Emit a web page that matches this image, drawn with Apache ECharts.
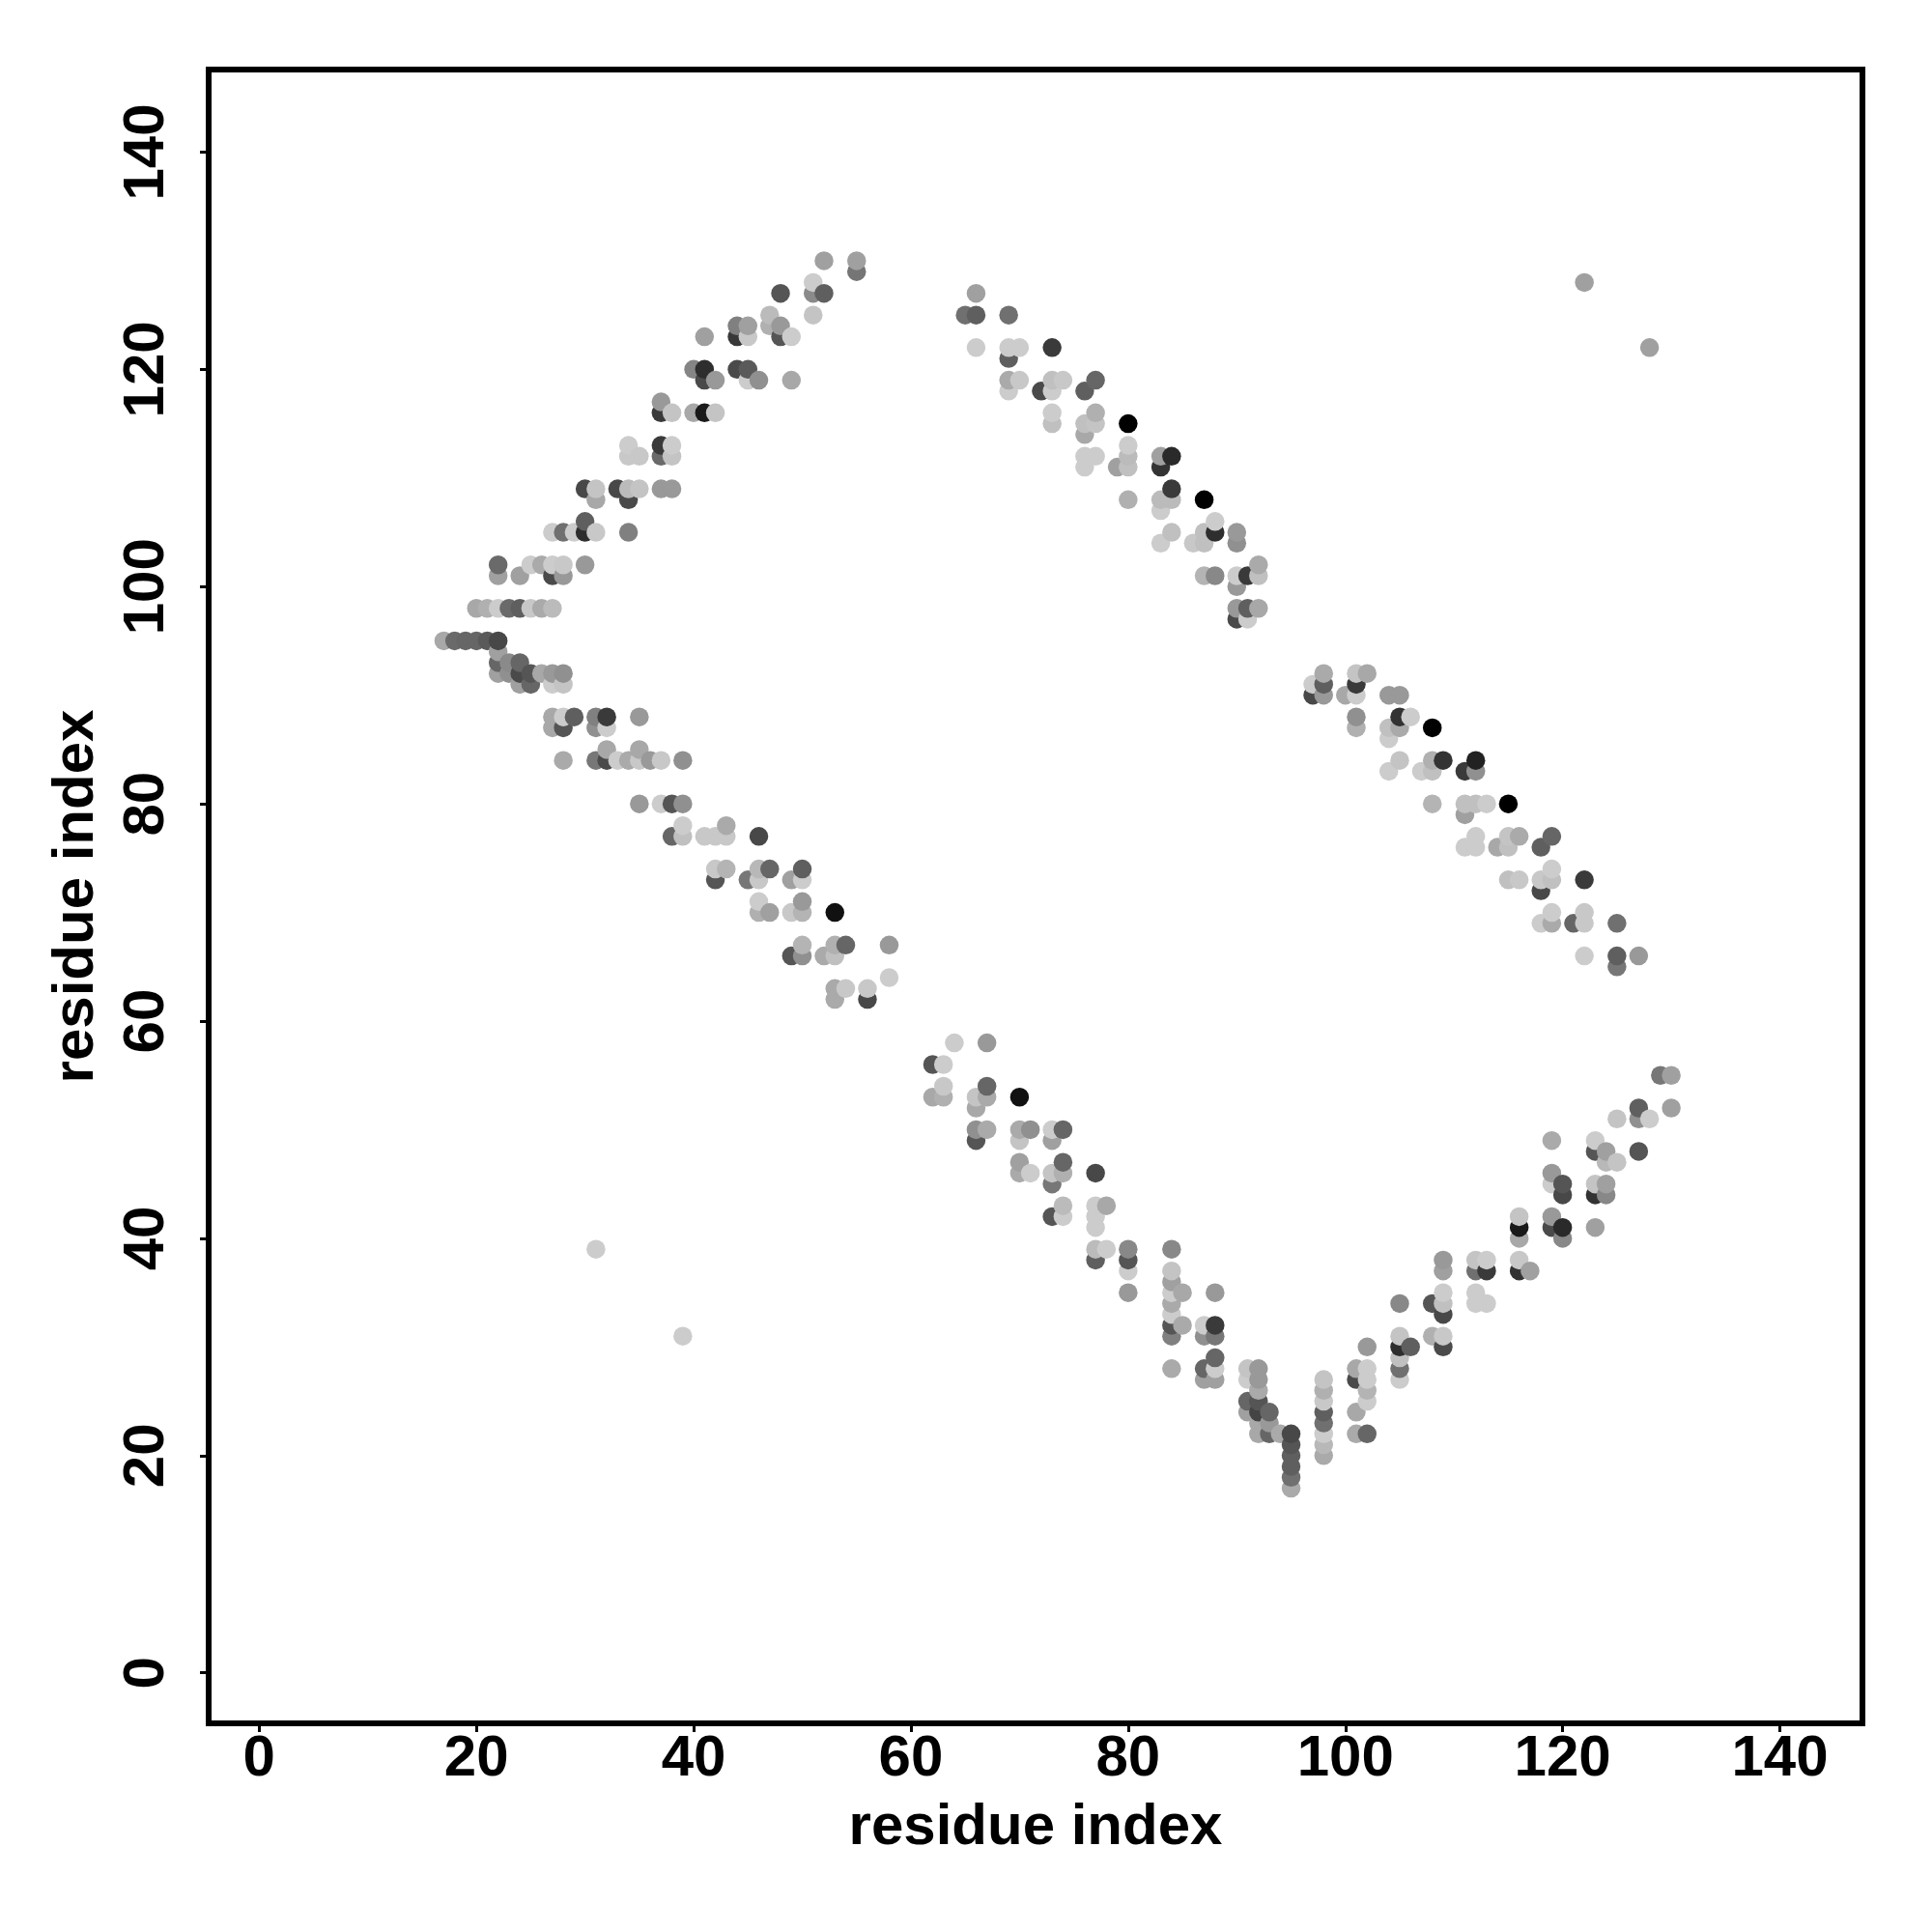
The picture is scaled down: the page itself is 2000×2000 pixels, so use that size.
<!DOCTYPE html>
<html>
<head>
<meta charset="utf-8">
<style>html,body{margin:0;padding:0;background:#fff}#c{width:2000px;height:2000px}</style>
<script src="https://cdn.jsdelivr.net/npm/echarts@6/dist/echarts.min.js"></script>
</head>
<body>
<div id="c"></div>
<script>
// Each contact: [residue i, residue j, grey level of the dot]
const upperLeftArm = [
[52,130,160],[55,130,160],[55,129,117],[48,127,85],[51,128,204],[51,127,138],[52,127,95],[51,125,196],
[47,125,187],[47,124,176],[48,124,153],[48,123,85],[49,123,204],[44,124,128],[45,124,160],[44,123,56],[45,123,200],[41,123,160],
[40,120,133],[41,120,46],[41,119,74],[42,119,153],[44,120,74],[45,120,90],[45,119,204],[46,119,144],[49,119,168],
[37,117,153],[37,116,58],[38,116,196],[40,116,168],[41,116,26],[42,116,196],
[34,113,204],[34,112,200],[35,112,200],[37,113,58],[38,113,204],[37,112,106],[38,112,196],
[30,109,72],[31,109,196],[31,108,168],[33,109,72],[34,109,187],[35,109,196],[34,108,74],[37,109,153],[38,109,153],
[30,106,95],[27,105,204],[28,105,112],[29,105,204],[30,105,46],[31,105,200],[34,105,128],
[22,102,106],[22,101,160],[24,101,160],[25,102,204],[26,102,170],[27,102,204],[28,102,200],[27,101,74],[28,101,153],[30,102,153],
[20,98,168],[21,98,176],[22,98,204],[23,98,106],[24,98,95],[25,98,200],[26,98,170],[27,98,187]
];
const lowerLeftArm = [
[17,95,168],[18,95,106],[19,95,102],[20,95,102],[21,95,90],[22,95,72],
[22,94,160],[22,93,102],[22,92,160],[23,93,138],[23,92,144],[24,93,102],[24,92,74],[24,91,160],[25,92,85],[25,91,102],
[26,92,168],[27,92,153],[28,92,144],[27,91,204],[28,91,196],
[27,88,168],[28,88,204],[29,88,95],[31,88,128],[32,88,58],[35,88,153],[27,87,168],[28,87,85],[31,87,144],[32,87,204],
[32,85,168],[35,85,168],[28,84,170],[31,84,119],[32,84,74],[33,84,204],[34,84,170],[35,84,200],[36,84,153],[37,84,200],[39,84,144],
[35,80,153],[37,80,204],[38,80,85],[39,80,144],[39,78,204],[43,78,170],[38,77,102],[39,77,192],[41,77,200],[42,77,200],[43,77,200],[46,77,72],
[42,74,200],[43,74,180],[46,74,184],[47,74,102],[50,74,95],[42,73,85],[45,73,119],[46,73,200],[49,73,160],[50,73,204],
[46,71,204],[50,71,153],[46,70,176],[47,70,160],[49,70,200],[50,70,180],[53,70,17],
[50,67,180],[53,67,176],[54,67,102],[58,67,153],[49,66,85],[50,66,144],[52,66,170],[53,66,192],
[58,64,204],[53,63,170],[54,63,200],[56,63,200],[53,62,170],[56,62,72]
];
const upperRightArm = [
[66,127,160],[65,125,112],[66,125,95],[69,125,112],[66,122,204],[69,122,204],[70,122,204],[69,121,95],[73,122,58],
[69,119,170],[70,119,200],[69,118,204],[72,118,74],[73,119,192],[74,119,200],[73,118,204],[77,119,102],[76,118,95],
[73,116,204],[73,115,192],[77,116,176],[76,115,192],[77,115,196],[76,114,168],[80,115,0],
[76,112,204],[77,112,204],[76,111,204],[80,113,204],[80,112,187],[80,111,192],[79,111,160],[83,112,160],[84,112,42],[83,111,51],
[84,109,58],[83,108,187],[84,108,187],[83,107,204],[80,108,176],[87,108,0],
[84,105,192],[83,104,204],[88,106,204],[87,105,192],[88,105,46],[86,104,200],[87,104,192],[90,105,153],[90,104,144],
[87,101,180],[88,101,136],[90,101,204],[91,101,58],[92,101,192],[92,102,170],[90,100,153],
[90,98,153],[91,98,95],[92,98,168],[90,97,74],[91,97,204]
];
const rightMiddleArm = [
[98,92,170],[97,91,204],[98,91,95],[97,90,72],[98,90,153],[101,92,196],[102,92,168],[101,91,58],[100,90,168],[101,90,204],
[104,90,153],[105,90,153],[101,88,144],[101,87,176],[105,88,51],[106,88,204],[104,87,192],[105,87,170],[104,86,204],[108,87,0],
[105,84,196],[104,83,204],[108,84,176],[109,84,51],[107,83,204],[108,83,192],[112,84,34],[111,83,58],[112,83,144],
[108,80,180],[111,80,192],[112,80,192],[113,80,204],[115,80,0],[111,79,160],
[112,77,204],[111,76,204],[112,76,204],[115,77,196],[116,77,170],[114,76,168],[115,76,192],[119,77,102],[118,76,95],
[115,73,192],[116,73,200],[119,74,204],[118,73,200],[119,73,192],[118,72,72],[122,73,58],
[119,70,204],[118,69,204],[119,69,170],[122,70,200],[121,69,102],[122,69,200],[125,69,112],
[122,66,204],[125,66,95],[125,65,119],[127,66,153]
];
const lowerMiddleArm = [
[64,58,204],[67,58,153],[62,56,85],[63,56,204],[63,54,200],[62,53,168],[63,53,176],[67,54,102],[66,53,196],[67,53,170],[66,52,168],[70,53,17],
[66,50,144],[67,50,170],[66,49,85],[70,50,170],[71,50,144],[70,49,196],[73,50,204],[74,50,102],[73,49,160],
[70,47,160],[70,46,170],[71,46,204],[74,47,102],[73,46,196],[74,46,176],[73,45,119],[77,46,72],
[74,43,187],[73,42,85],[74,42,204],[77,43,204],[78,43,168],[77,42,204],[77,41,204],
[77,39,187],[78,39,204],[77,38,95],[80,39,136],[80,38,85],[80,37,204],[80,35,153],[84,39,136],
[84,37,196],[84,36,160],[84,35,204],[85,35,168],[84,34,170],[84,33,204],[84,32,85],[85,32,170],[84,31,128],[88,35,153],
[87,32,204],[88,32,58],[87,31,144],[88,31,119],[88,29,102],[87,28,102],[88,28,204],[87,27,160],[88,27,160],[84,28,170],
[91,28,196],[92,28,153],[91,27,204],[92,27,153],[92,26,170],[91,25,102],[92,25,85],[91,24,160],[92,24,68],[93,24,102],
[92,23,168],[93,23,153],[92,22,168],[93,22,102],[94,22,170],
[95,22,72],[95,21,85],[95,20,95],[95,19,95],[95,18,112],[95,17,170]
];
const lowerRightArm = [
[98,27,196],[98,26,176],[98,25,200],[98,24,95],[98,23,112],[98,22,204],[98,21,184],[98,20,170],
[101,28,168],[101,27,74],[102,28,204],[102,27,204],[102,26,180],[102,25,204],[101,24,168],[102,30,153],[101,22,170],[102,22,102],
[105,34,136],[105,31,196],[105,30,46],[105,29,192],[105,28,112],[105,27,204],[106,30,95],
[108,34,85],[109,35,204],[109,34,192],[109,33,72],[112,35,204],[112,34,204],[113,34,204],[108,31,176],[109,31,200],[109,30,74],
[109,38,153],[109,37,160],[112,38,196],[113,38,204],[112,37,112],[113,37,58],[116,38,200],[116,37,51],[117,37,160],
[116,42,196],[116,41,26],[116,40,168],[119,42,153],[119,41,74],[120,41,42],[120,40,136],[123,41,160],
[119,46,153],[119,45,204],[120,45,85],[120,44,72],[123,45,196],[124,45,160],[123,44,51],[124,44,136],
[119,49,170],[123,49,204],[123,48,85],[124,48,160],[124,47,184],[125,47,196],[127,48,85],
[125,51,196],[127,52,95],[127,51,144],[128,51,204],[130,52,160],[129,55,119],[130,55,160]
];
const isolatedContacts = [[122,128,160],[128,122,160],[31,39,204],[39,31,204]];
const tickValues = [0,20,40,60,80,100,120,140];
const axisTitle = 'residue index';

const contacts = [].concat(upperLeftArm, lowerLeftArm, upperRightArm, rightMiddleArm, lowerMiddleArm, lowerRightArm, isolatedContacts)
  .sort((a,b)=> a[0]-b[0] || a[1]-b[1]);

const font = '"Liberation Sans", Arial, sans-serif';
const baseAxis = {
  type:'value', min:-4.65, max:147.6, splitLine:{show:false},
  axisLine:{show:false,onZero:false},
  axisTick:{show:true, length:9, lineStyle:{color:'#000',width:3}, customValues:tickValues},
  nameLocation:'middle',
  name:axisTitle,
  nameTextStyle:{fontFamily:font,fontWeight:'bold',fontSize:60,color:'#000'}
};
const labelStyle = {fontFamily:font,fontWeight:'bold',fontSize:60,color:'#000',customValues:tickValues,showMinLabel:true,showMaxLabel:true};

const chart = echarts.init(document.getElementById('c'), null, {renderer:'canvas'});
chart.setOption({
  animation:false,
  backgroundColor:'#fff',
  grid:{left:216,right:72,top:72,bottom:216,show:true,borderColor:'#000',borderWidth:6,backgroundColor:'#fff'},
  xAxis:Object.assign({},baseAxis,{nameGap:78,axisLabel:Object.assign({},labelStyle,{margin:7})}),
  yAxis:Object.assign({},baseAxis,{nameGap:107,axisLabel:Object.assign({},labelStyle,{rotate:90,margin:64,align:'center',verticalAlign:'middle'})}),
  series:[{
    type:'scatter',
    symbol:'circle',
    symbolSize:19.5,
    silent:true,
    data:contacts.map(c=>({value:[c[0],c[1]],itemStyle:{color:'rgb('+c[2]+','+c[2]+','+c[2]+')',opacity:1}}))
  }]
});
</script>
</body>
</html>
